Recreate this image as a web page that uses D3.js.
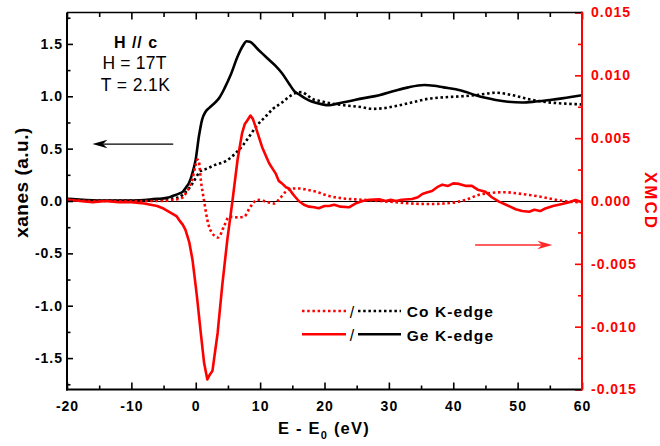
<!DOCTYPE html>
<html><head><meta charset="utf-8">
<script src="https://cdn.jsdelivr.net/npm/d3@7"></script>
<style>
body{margin:0;background:#fff;}
svg{display:block;font-family:"Liberation Sans",Arial,Helvetica,sans-serif;}
</style></head><body>
<svg id="c" width="660" height="446"></svg>
<script>
// ---------- DATA ----------
// Ge K-edge XANES (left axis)
const geXanesE = [-20,-17,-14,-11,-8,-6,-4.5,-3.5,-2.6,-2,-1.5,-1,-0.5,0,0.5,1,1.5,2.1,3,3.6,4.5,5.4,6.5,7.3,7.9,8.4,9.8,11,12.4,13.4,14.5,15.3,16,17,18,19.5,20.7,22,24,25.9,28.5,31.1,33,35.5,37,38.5,40.4,42,43.5,45,46.6,48.5,50.7,52.8,55,56.9,58.5,60];
const geXanes  = [0.02,0.01,0.005,0.005,0.01,0.02,0.03,0.05,0.07,0.09,0.13,0.18,0.27,0.40,0.62,0.78,0.85,0.89,0.94,0.98,1.08,1.20,1.38,1.48,1.525,1.52,1.44,1.37,1.29,1.22,1.12,1.05,1.02,0.98,0.95,0.925,0.914,0.93,0.955,0.98,1.01,1.056,1.085,1.107,1.10,1.085,1.067,1.04,1.01,0.985,0.965,0.948,0.94,0.95,0.965,0.98,0.995,1.01];
// Co K-edge XANES (left axis)
const coXanesE = [-20,-15,-10,-6,-4,-2.6,-2,-1.5,-0.8,0,0.5,1,1.55,3,4.65,6.2,7.3,8.3,9.5,10.9,12,13.4,14.5,15.5,16.5,17.3,18.1,19.3,20.7,23,25.9,27.4,29,31.1,33.5,36.2,38.5,41.4,44,46.6,48,49.6,51.5,53.8,56,58,60];
const coXanes  = [0.015,0.005,0.005,0.01,0.02,0.035,0.06,0.09,0.14,0.22,0.27,0.295,0.305,0.345,0.38,0.457,0.53,0.615,0.72,0.81,0.88,0.94,0.995,1.03,1.04,1.01,0.975,0.955,0.935,0.915,0.895,0.88,0.885,0.907,0.94,0.977,0.99,1.0,1.015,1.034,1.025,1.005,0.975,0.95,0.935,0.928,0.922];
// Ge K-edge XMCD (right axis)
const geXmcdE = [-20,-18,-16,-14,-12,-10,-8,-7,-6,-5,-4,-3,-2.6,-2,-1.6,-1,-0.5,0,0.25,0.78,1.3,1.8,2.2,2.6,3.0,3.4,4.1,4.9,5.7,6.5,7.2,7.6,8.0,8.5,8.9,9.3,9.8,10.3,10.8,11.4,11.9,12.4,12.9,13.4,14,14.5,15,15.5,16,16.8,17.6,18.4,19.1,20,20.7,21.5,22.5,23.8,24.8,25.9,27,28.5,29.5,30.3,31.1,32,33.6,34.5,35.2,36,36.7,37.5,38.3,39.2,40,40.9,42,42.9,43.8,45,46,47.1,48.2,49.7,50.7,51.8,52.6,53.5,54.3,55.5,56.9,58,59,60];
const geXmcd  = [0.0001,0.0,-0.0001,0.0,-0.0001,-0.0001,-0.0002,-0.0003,-0.0004,-0.0006,-0.0009,-0.0012,-0.0015,-0.0019,-0.0023,-0.0033,-0.0047,-0.0068,-0.0079,-0.0105,-0.0129,-0.0142,-0.0138,-0.0135,-0.012,-0.0105,-0.0068,-0.0031,0.0,0.0033,0.0054,0.0061,0.0064,0.0068,0.0065,0.0059,0.0051,0.0043,0.0037,0.0030,0.0026,0.0022,0.0016,0.0014,0.0011,0.0010,0.0006,0.0003,0.0,-0.0003,-0.00045,-0.0005,-0.00057,-0.0004,-0.0004,-0.0003,-0.00045,-0.0005,-0.0002,0.0,0.0001,0.00013,0.0,0.0001,0.0,0.0001,0.00016,0.0003,0.00056,0.0007,0.0008,0.0011,0.0013,0.0012,0.0014,0.00136,0.0012,0.0012,0.0009,0.00074,0.0003,-0.00005,-0.0003,-0.00066,-0.0008,-0.00085,-0.0007,-0.0008,-0.0006,-0.0004,-0.00024,-0.0001,0.00008,-0.0001];
// Co K-edge XMCD (right axis)
const coXmcdE = [-20,-16,-12,-8,-5,-3.5,-2.6,-2,-1.55,-1,-0.5,0,0.25,0.5,0.78,1.3,1.8,2.6,3.5,4.4,5.2,6.5,7.5,8.5,9.6,10.9,12.2,12.9,14,15.3,16,17.3,18.6,20.7,23,25.9,28.5,31.1,33.5,36.2,38.5,40.4,42,43.9,46,48,50,51.8,54,55.9,58,59.8];
const coXmcd  = [0.0001,0.0,0.0,0.0,0.0,0.0001,0.00016,0.0003,0.0006,0.0011,0.0018,0.0029,0.0033,0.0031,0.0017,0.0,-0.0015,-0.0026,-0.0029,-0.0020,-0.00125,-0.0013,-0.00125,-0.00045,0.0001,-0.00005,-0.0002,0.0001,0.00075,0.001,0.001,0.0009,0.00075,0.0004,0.0002,0.0001,0.0,-0.0001,-0.0002,-0.00024,-0.0002,-0.0001,0.0001,0.00048,0.00065,0.0007,0.0006,0.00048,0.0003,0.0001,-0.00005,-0.0001];

// Tick values
const xMajor = [-20,-10,0,10,20,30,40,50,60];
const xMinor = [-15,-5,5,15,25,35,45,55];
const yLMajor = [-1.5,-1.0,-0.5,0.0,0.5,1.0,1.5];
const yLMinor = [-1.75,-1.25,-0.75,-0.25,0.25,0.75,1.25,1.75];
const yRMajor = [-0.015,-0.010,-0.005,0.000,0.005,0.010,0.015];
const yRMinor = [-0.0125,-0.0075,-0.0025,0.0025,0.0075,0.0125];

// Texts
const xLabel = ["E - E", "0", " (eV)"];
const yLeftLabel = "xanes (a.u.)";
const yRightLabel = "XMCD";
const infoLines = ["H // c", "H = 17T", "T = 2.1K"];
const legendNames = ["Co K-edge", "Ge K-edge"];
// arrows in data units: [E start, E end, value]
const arrowLeft = [-3.5, -16.05, 0.544];
const arrowRight = [43.4, 55.4, -0.0035];

// ---------- CHART ----------
const svg = d3.select("#c");
const L = 67, R = 582, T = 12.5, B = 389.5;
const RED = "#ff0000";
const x  = d3.scaleLinear().domain([-20, 60]).range([L, R]);
const yL = d3.scaleLinear().domain([-1.8, 1.8]).range([B, T]);
const yR = d3.scaleLinear().domain([-0.015, 0.015]).range([B, T]);

svg.append("defs").append("clipPath").attr("id", "clip")
  .append("rect").attr("x", L).attr("y", T).attr("width", R - L).attr("height", B - T);

// zero line
svg.append("line").attr("x1", L).attr("x2", R).attr("y1", yL(0) + 0.5).attr("y2", yL(0) + 0.5)
  .attr("stroke", "#000").attr("stroke-width", 1).attr("shape-rendering", "crispEdges");

const plot = svg.append("g").attr("clip-path", "url(#clip)");
function path(E, V, ys, curve) {
  return d3.line().x((d, i) => x(E[i])).y(d => ys(d)).curve(curve)(V);
}
const DOT = "2.5,2.7";
plot.append("path").attr("d", path(geXanesE, geXanes, yL, d3.curveMonotoneX))
  .attr("fill", "none").attr("stroke", "#000").attr("stroke-width", 2.6).attr("stroke-linejoin", "round");
plot.append("path").attr("d", path(coXanesE, coXanes, yL, d3.curveMonotoneX))
  .attr("fill", "none").attr("stroke", "#000").attr("stroke-width", 2.6).attr("stroke-dasharray", DOT);
plot.append("path").attr("d", path(coXmcdE, coXmcd, yR, d3.curveMonotoneX))
  .attr("fill", "none").attr("stroke", RED).attr("stroke-width", 2.6).attr("stroke-dasharray", DOT);
plot.append("path").attr("d", path(geXmcdE, geXmcd, yR, d3.curveLinear))
  .attr("fill", "none").attr("stroke", RED).attr("stroke-width", 2.6).attr("stroke-linejoin", "round");

// ---------- AXES ----------
function styleAxis(g, color, size) {
  g.select(".domain").remove();
  g.selectAll(".tick line").attr("stroke", color).attr("stroke-width", 1.6);
  g.selectAll(".tick text").attr("fill", color).attr("font-size", size)
    .attr("font-weight", "bold").attr("letter-spacing", "1px");
}
const TS = 14;
// bottom
svg.append("g").attr("transform", `translate(0,${B})`)
  .call(d3.axisBottom(x).tickValues(xMajor).tickSize(-7).tickPadding(11.5).tickFormat(d => String(d)))
  .call(g => styleAxis(g, "#000", TS));
svg.append("g").attr("transform", `translate(0,${B})`)
  .call(d3.axisBottom(x).tickValues(xMinor).tickSize(-4).tickFormat(""))
  .call(g => styleAxis(g, "#000", TS));
// top
svg.append("g").attr("transform", `translate(0,${T})`)
  .call(d3.axisTop(x).tickValues(xMajor).tickSize(-7).tickFormat(""))
  .call(g => styleAxis(g, "#000", TS));
svg.append("g").attr("transform", `translate(0,${T})`)
  .call(d3.axisTop(x).tickValues(xMinor).tickSize(-4.5).tickFormat(""))
  .call(g => styleAxis(g, "#000", TS));
// left
svg.append("g").attr("transform", `translate(${L},0)`)
  .call(d3.axisLeft(yL).tickValues(yLMajor).tickSize(-6).tickPadding(4).tickFormat(d => d.toFixed(1)))
  .call(g => styleAxis(g, "#000", TS));
svg.append("g").attr("transform", `translate(${L},0)`)
  .call(d3.axisLeft(yL).tickValues(yLMinor).tickSize(-3.5).tickFormat(""))
  .call(g => styleAxis(g, "#000", TS));
// right
svg.append("g").attr("transform", `translate(${R},0)`)
  .call(d3.axisRight(yR).tickValues(yRMajor).tickSize(-7).tickPadding(9).tickFormat(d => d.toFixed(3)))
  .call(g => styleAxis(g, RED, TS));
svg.append("g").attr("transform", `translate(${R},0)`)
  .call(d3.axisRight(yR).tickValues(yRMinor).tickSize(-4).tickFormat(""))
  .call(g => styleAxis(g, RED, TS));
svg.selectAll("g").attr("font-family", null);

// spines
svg.append("line").attr("x1", L).attr("x2", R).attr("y1", T).attr("y2", T).attr("stroke", "#000").attr("stroke-width", 1.6);
svg.append("line").attr("x1", L - 1).attr("x2", R).attr("y1", B).attr("y2", B).attr("stroke", "#000").attr("stroke-width", 2);
svg.append("line").attr("x1", L).attr("x2", L).attr("y1", T).attr("y2", B + 1).attr("stroke", "#000").attr("stroke-width", 2);
svg.append("line").attr("x1", R).attr("x2", R).attr("y1", T - 1).attr("y2", B + 1).attr("stroke", RED).attr("stroke-width", 2);

// ---------- LABELS ----------
const xl = svg.append("text").attr("x", 324).attr("y", 434.3).attr("text-anchor", "middle")
  .attr("font-size", 16.5).attr("font-weight", "bold").attr("letter-spacing", "1.2px");
xl.append("tspan").text(xLabel[0]);
xl.append("tspan").attr("dy", 5).attr("font-size", 11).text(xLabel[1]);
xl.append("tspan").attr("dy", -5).text(xLabel[2]);

svg.append("text").attr("transform", "translate(27.5,182.5) rotate(-90)").attr("text-anchor", "middle")
  .attr("font-size", 19).attr("font-weight", "bold").attr("letter-spacing", "0.5px").text(yLeftLabel);
svg.append("text").attr("transform", "translate(645,201) rotate(90)").attr("text-anchor", "middle")
  .attr("font-size", 17).attr("font-weight", "bold").attr("letter-spacing", "2px").attr("fill", RED).text(yRightLabel);

// info block
svg.append("text").attr("x", 136).attr("y", 48).attr("text-anchor", "middle")
  .attr("font-size", 16).attr("font-weight", "bold").attr("letter-spacing", "1px").text(infoLines[0]);
svg.append("text").attr("x", 134.5).attr("y", 69.3).attr("text-anchor", "middle")
  .attr("font-size", 17.5).attr("letter-spacing", "0.2px").text(infoLines[1]);
svg.append("text").attr("x", 135.5).attr("y", 90.7).attr("text-anchor", "middle")
  .attr("font-size", 17.5).attr("letter-spacing", "0.4px").text(infoLines[2]);

// arrows
function arrow(x1, x2, y, color, w) {
  const dir = Math.sign(x2 - x1);
  const hl = 15, hw = 4.2, notch = 10.5;
  svg.append("line").attr("x1", x1).attr("x2", x2 - dir * notch).attr("y1", y).attr("y2", y)
    .attr("stroke", color).attr("stroke-width", w);
  svg.append("path").attr("d",
    `M${x2},${y} L${x2 - dir * hl},${y - hw} L${x2 - dir * notch},${y} L${x2 - dir * hl},${y + hw} Z`)
    .attr("fill", color);
}
arrow(x(arrowLeft[0]), x(arrowLeft[1]), yL(arrowLeft[2]), "#000", 1.3);
arrow(x(arrowRight[0]), x(arrowRight[1]), yR(arrowRight[2]), "#ff2a2a", 1.6);

// legend
const legRows = [
  { y: 311, dash: DOT, name: legendNames[0] },
  { y: 334.3, dash: null, name: legendNames[1] }
];
legRows.forEach(r => {
  const a = svg.append("line").attr("x1", 302).attr("x2", 346).attr("y1", r.y).attr("y2", r.y)
    .attr("stroke", RED).attr("stroke-width", 2.6);
  const b = svg.append("line").attr("x1", 358).attr("x2", 401).attr("y1", r.y).attr("y2", r.y)
    .attr("stroke", "#000").attr("stroke-width", 2.6);
  if (r.dash) { a.attr("stroke-dasharray", r.dash); b.attr("stroke-dasharray", r.dash); }
  svg.append("text").attr("x", 352).attr("y", r.y + 6.5).attr("text-anchor", "middle")
    .attr("font-size", 16).text("/");
  svg.append("text").attr("x", 406.7).attr("y", r.y + 6.3).attr("font-size", 15.5)
    .attr("font-weight", "bold").attr("letter-spacing", "1.1px").text(r.name);
});
</script>
</body></html>
